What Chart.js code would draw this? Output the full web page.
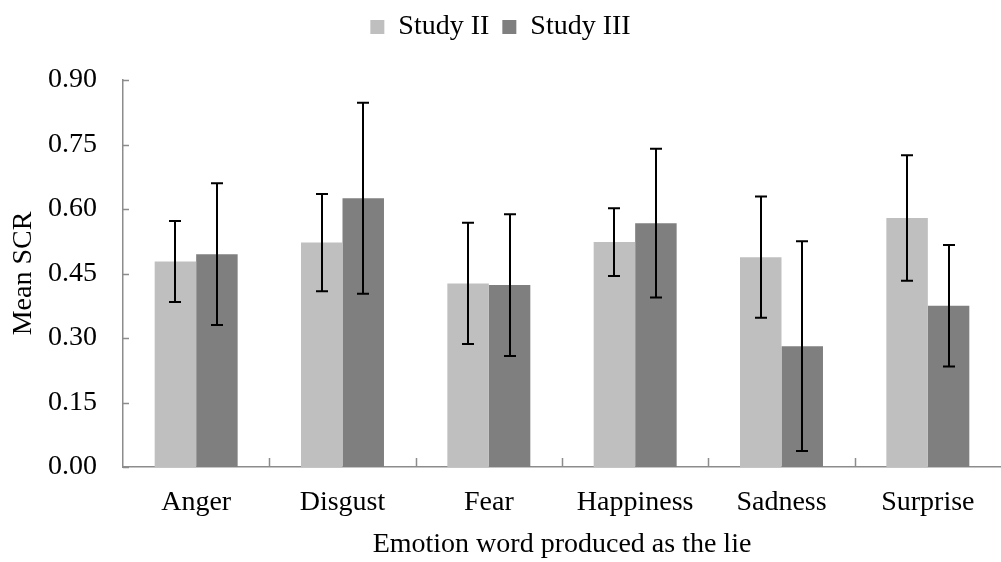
<!DOCTYPE html>
<html>
<head>
<meta charset="utf-8">
<script src="https://cdn.jsdelivr.net/npm/chart.js@4/dist/chart.umd.min.js"></script>
<style>
  html, body { margin: 0; padding: 0; background: #fff; }
  #wrap { width: 1001px; height: 562px; position: relative; }
</style>
</head>
<body>
<div id="wrap"><canvas id="chart_div"></canvas></div>
<script>
// emotion words (x categories)
var emotions = ["Anger", "Disgust", "Fear", "Happiness", "Sadness", "Surprise"];

// mean SCR per study
var study2 = [0.478, 0.522, 0.427, 0.523, 0.488, 0.579];
var study3 = [0.495, 0.625, 0.423, 0.567, 0.281, 0.375];

// error bar half lengths
var study2Err = [0.094, 0.113, 0.141, 0.079, 0.141, 0.146];
var study3Err = [0.165, 0.222, 0.165, 0.173, 0.244, 0.141];

var yTicks = [0, 0.15, 0.30, 0.45, 0.60, 0.75, 0.90];

var serif = "'Liberation Serif', 'Times New Roman', serif";
var axisGrey = "#8c8c8c";

// draws the error bars and the inward tick marks
var errorBars = {
  id: "errorBars",
  afterDatasetsDraw: function (chart) {
    var ctx = chart.ctx;
    var y = chart.scales.y;
    var errs = [study2Err, study3Err];
    ctx.save();
    ctx.strokeStyle = "#000";
    ctx.lineWidth = 2;
    chart.data.datasets.forEach(function (ds, d) {
      var meta = chart.getDatasetMeta(d);
      meta.data.forEach(function (bar, i) {
        var top = y.getPixelForValue(ds.data[i] + errs[d][i]);
        var bot = y.getPixelForValue(ds.data[i] - errs[d][i]);
        var x = Math.round(bar.x);
        ctx.beginPath();
        ctx.moveTo(x, top); ctx.lineTo(x, bot);
        ctx.moveTo(x - 6, top); ctx.lineTo(x + 6, top);
        ctx.moveTo(x - 6, bot); ctx.lineTo(x + 6, bot);
        ctx.stroke();
      });
    });
    ctx.restore();
  },
  afterDraw: function (chart) {
    var ctx = chart.ctx;
    var x = chart.scales.x, y = chart.scales.y;
    var area = chart.chartArea;
    ctx.save();
    ctx.strokeStyle = axisGrey;
    ctx.lineWidth = 1.5;
    ctx.beginPath();
    // y ticks pointing into the plot
    yTicks.forEach(function (v) {
      var py = Math.round(y.getPixelForValue(v)) + 0.5;
      ctx.moveTo(area.left, py); ctx.lineTo(area.left + 6, py);
    });
    // x ticks between categories, pointing up
    for (var i = 0; i < emotions.length - 1; i++) {
      var px = Math.round((x.getPixelForValue(i) + x.getPixelForValue(i + 1)) / 2) + 0.5;
      ctx.moveTo(px, area.bottom); ctx.lineTo(px, area.bottom - 9);
    }
    ctx.stroke();
    ctx.restore();
  }
};

var chart = new Chart(document.getElementById("chart_div"), {
  type: "bar",
  data: {
    labels: emotions,
    datasets: [
      { label: "Study II", data: study2, backgroundColor: "#bfbfbf" },
      { label: "Study III", data: study3, backgroundColor: "#7f7f7f" }
    ]
  },
  options: {
    responsive: true,
    maintainAspectRatio: false,
    animation: false,
    layout: { padding: 0 },
    datasets: { bar: { categoryPercentage: 0.567, barPercentage: 1.0 } },
    plugins: {
      legend: {
        position: "top",
        weight: 3000,
        labels: {
          font: { family: serif, size: 28 },
          color: "#000",
          boxWidth: 14, boxHeight: 14,
          padding: 13
        }
      },
      // empty title, only used as a gap between legend and plot
      title: {
        display: true, text: " ", position: "top",
        font: { size: 10, lineHeight: 1.2 },
        padding: { top: 0, bottom: 17 }
      },
      tooltip: { enabled: false }
    },
    scales: {
      x: {
        afterFit: function (axis) { axis.height = 95; },
        grid: { display: false, drawTicks: false },
        border: { display: true, color: axisGrey, width: 1.5 },
        ticks: { color: "#000", font: { family: serif, size: 28 }, padding: 19, maxRotation: 0 },
        title: { display: true, text: "Emotion word produced as the lie", color: "#000",
                 font: { family: serif, size: 28 }, padding: { top: 0, bottom: 1 } }
      },
      y: {
        min: 0, max: 0.9,
        afterBuildTicks: function (axis) {
          axis.ticks = yTicks.map(function (v) { return { value: v }; });
        },
        afterFit: function (axis) { axis.width = 123; },
        grid: { display: false, drawTicks: false },
        border: { display: true, color: axisGrey, width: 1.5 },
        ticks: {
          color: "#000", font: { family: serif, size: 28 }, padding: 26, autoSkip: false,
          callback: function (v) { return Number(v).toFixed(2); }
        },
        title: { display: true, text: "Mean SCR", color: "#000",
                 font: { family: serif, size: 28 }, padding: { top: 7, bottom: 0 } }
      }
    }
  },
  plugins: [errorBars]
});
</script>
</body>
</html>
